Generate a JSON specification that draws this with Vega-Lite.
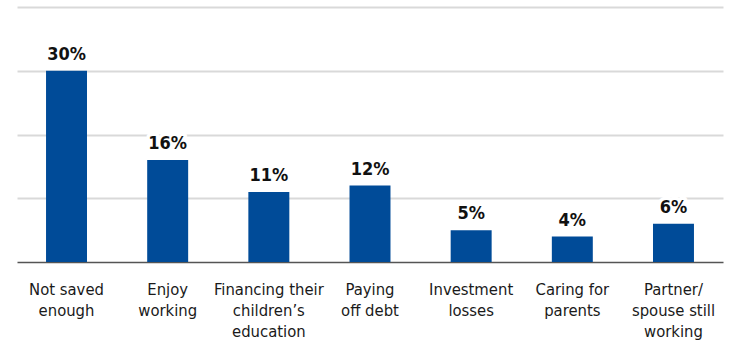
{
  "$schema": "https://vega.github.io/schema/vega-lite/v6.json",
  "width": 706,
  "height": 255,
  "autosize": {"type": "none"},
  "padding": {"left": 17, "top": 7, "right": 7, "bottom": 82},
  "background": "white",
  "config": {
    "view": {"stroke": null},
    "font": "DejaVu Sans Condensed, sans-serif"
  },
  "data": {
    "values": [
      {"reason": "Not saved|enough", "pct": 30, "label": "30%"},
      {"reason": "Enjoy|working", "pct": 16, "label": "16%"},
      {"reason": "Financing their|children’s|education", "pct": 11, "label": "11%"},
      {"reason": "Paying|off debt", "pct": 12, "label": "12%"},
      {"reason": "Investment|losses", "pct": 5, "label": "5%"},
      {"reason": "Caring for|parents", "pct": 4, "label": "4%"},
      {"reason": "Partner/|spouse still|working", "pct": 6, "label": "6%"}
    ]
  },
  "encoding": {
    "x": {
      "field": "reason",
      "type": "nominal",
      "sort": null,
      "scale": {"paddingInner": 0.595, "paddingOuter": 0.287},
      "axis": {
        "title": null,
        "labelAngle": 0,
        "labelExpr": "split(datum.label, '|')",
        "labelFont": "DejaVu Sans Condensed, sans-serif",
        "labelFontSize": 16.5,
        "labelColor": "#1a1a1a",
        "labelLineHeight": 21,
        "labelPadding": 32,
        "labelBaseline": "alphabetic",
        "labelOverlap": false,
        "ticks": false,
        "domainColor": "#555555",
        "domainWidth": 1.5,
        "grid": false
      }
    },
    "y": {
      "field": "pct",
      "type": "quantitative",
      "scale": {"domain": [0, 40]},
      "axis": {
        "title": null,
        "labels": false,
        "ticks": false,
        "domain": false,
        "values": [10, 20, 30, 40],
        "grid": true,
        "gridColor": "#d9d9d9",
        "gridWidth": 2
      }
    }
  },
  "layer": [
    {"mark": {"type": "bar", "color": "#004b98"}},
    {
      "mark": {
        "type": "text",
        "baseline": "alphabetic",
        "dy": -11,
        "fontSize": 18,
        "fontWeight": "bold",
        "stroke": "white",
        "strokeWidth": 7,
        "strokeJoin": "round",
        "fill": "white"
      },
      "encoding": {"text": {"field": "label"}}
    },
    {
      "mark": {
        "type": "text",
        "baseline": "alphabetic",
        "dy": -11,
        "fontSize": 18,
        "fontWeight": "bold",
        "color": "#111111"
      },
      "encoding": {"text": {"field": "label"}}
    }
  ]
}
